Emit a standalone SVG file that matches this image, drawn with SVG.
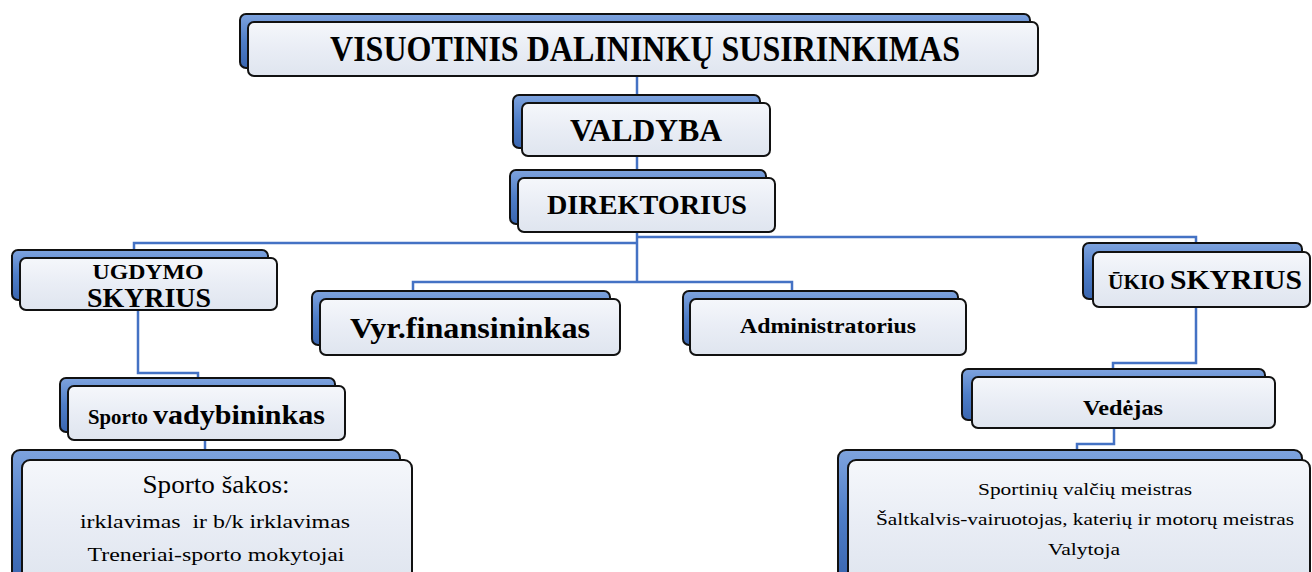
<svg xmlns="http://www.w3.org/2000/svg" width="1312" height="572" viewBox="0 0 1312 572">
<defs>
<linearGradient id="gBack" x1="0" y1="0" x2="0" y2="1">
<stop offset="0" stop-color="#7ea3de"/>
<stop offset="0.5" stop-color="#4f7ec8"/>
<stop offset="1" stop-color="#3a66b0"/>
</linearGradient>
<linearGradient id="gFront" x1="0" y1="0" x2="0" y2="1">
<stop offset="0" stop-color="#f5f7fb"/>
<stop offset="0.5" stop-color="#e9edf5"/>
<stop offset="1" stop-color="#dfe5ef"/>
</linearGradient>
</defs>
<style>
.back{fill:url(#gBack);stroke:#111;stroke-width:2}
.front{fill:url(#gFront);stroke:#111;stroke-width:2}
.conn{fill:none;stroke:#4472c4;stroke-width:2.5}
text{font-family:'Liberation Serif',serif;fill:#000}
.b{font-weight:bold;text-anchor:middle}
.bs{font-weight:bold;text-anchor:start}
.r{text-anchor:middle}
</style>
<rect width="1312" height="572" fill="#ffffff"/>
<g id="connectors">
<path class="conn" d="M637,76 V282"/>
<path class="conn" d="M134,258 V243 H637"/>
<path class="conn" d="M637,237 H1196 V252"/>
<path class="conn" d="M413,298 V282 H792 V299"/>
<path class="conn" d="M138,310 V373 H198 V378"/>
<path class="conn" d="M205,440 V450"/>
<path class="conn" d="M1196,307 V363 H1113 V369"/>
<path class="conn" d="M1114,428 V444 H1077 V450"/>
</g>
<g id="n-top">
<rect class="back" x="240" y="14" width="790" height="54" rx="6"/>
<rect class="front" x="248" y="22" width="790" height="54" rx="6"/>
<text class="b" x="645" y="61" font-size="35" textLength="630" lengthAdjust="spacingAndGlyphs">VISUOTINIS DALININKŲ SUSIRINKIMAS</text>
</g>
<g id="n-valdyba">
<rect class="back" x="513" y="95" width="247" height="53" rx="6"/>
<rect class="front" x="522" y="103" width="248" height="53" rx="6"/>
<text class="b" x="646" y="141" font-size="32" textLength="152" lengthAdjust="spacingAndGlyphs">VALDYBA</text>
</g>
<g id="n-direktorius">
<rect class="back" x="510" y="170" width="256" height="54" rx="6"/>
<rect class="front" x="518" y="178" width="257" height="54" rx="6"/>
<text class="b" x="647" y="214" font-size="28" textLength="200" lengthAdjust="spacingAndGlyphs">DIREKTORIUS</text>
</g>
<g id="n-ugdymo">
<rect class="back" x="12" y="250" width="256" height="50" rx="6"/>
<rect class="front" x="20" y="258" width="257" height="52" rx="6"/>
<text class="b" x="148" y="279" font-size="21" textLength="111" lengthAdjust="spacingAndGlyphs">UGDYMO</text>
<text class="b" x="149" y="307" font-size="27" textLength="124" lengthAdjust="spacingAndGlyphs">SKYRIUS</text>
</g>
<g id="n-vyr">
<rect class="back" x="312" y="291" width="298" height="54" rx="6"/>
<rect class="front" x="320" y="299" width="300" height="56" rx="6"/>
<text class="b" x="470" y="338" font-size="30" textLength="240" lengthAdjust="spacingAndGlyphs">Vyr.finansininkas</text>
</g>
<g id="n-admin">
<rect class="back" x="683" y="291" width="275" height="54" rx="6"/>
<rect class="front" x="690" y="299" width="276" height="56" rx="6"/>
<text class="b" x="828" y="333" font-size="22" textLength="176" lengthAdjust="spacingAndGlyphs">Administratorius</text>
</g>
<g id="n-ukio">
<rect class="back" x="1083" y="243" width="219" height="56" rx="6"/>
<rect class="front" x="1093" y="252" width="217" height="55" rx="6"/>
<text class="bs" x="1108" y="289" font-size="21" textLength="57" lengthAdjust="spacingAndGlyphs">ŪKIO</text>
<text class="bs" x="1170" y="289" font-size="28" textLength="132" lengthAdjust="spacingAndGlyphs">SKYRIUS</text>
</g>
<g id="n-vadyb">
<rect class="back" x="60" y="378" width="275" height="54" rx="6"/>
<rect class="front" x="68" y="386" width="277" height="54" rx="6"/>
<text class="bs" x="88" y="424" font-size="21" textLength="60" lengthAdjust="spacingAndGlyphs">Sporto</text>
<text class="bs" x="153" y="424" font-size="28" textLength="172" lengthAdjust="spacingAndGlyphs">vadybininkas</text>
</g>
<g id="n-vedejas">
<rect class="back" x="962" y="369" width="303" height="51" rx="6"/>
<rect class="front" x="972" y="377" width="303" height="51" rx="6"/>
<text class="b" x="1123" y="415" font-size="21" textLength="80" lengthAdjust="spacingAndGlyphs">Vedėjas</text>
</g>
<g id="n-sakos">
<rect class="back" x="12" y="450" width="388" height="130" rx="8"/>
<rect class="front" x="22" y="460" width="390" height="125" rx="8"/>
<text class="r" x="216" y="493" font-size="25" textLength="147" lengthAdjust="spacingAndGlyphs">Sporto šakos:</text>
<text class="r" x="215" y="528" font-size="19" textLength="270" lengthAdjust="spacingAndGlyphs" xml:space="preserve">irklavimas  ir b/k irklavimas</text>
<text class="r" x="216" y="561" font-size="19" textLength="257" lengthAdjust="spacingAndGlyphs">Treneriai-sporto mokytojai</text>
</g>
<g id="n-right">
<rect class="back" x="838" y="450" width="464" height="130" rx="8"/>
<rect class="front" x="848" y="460" width="462" height="125" rx="8"/>
<text class="r" x="1085" y="495" font-size="17" textLength="214" lengthAdjust="spacingAndGlyphs">Sportinių valčių meistras</text>
<text class="r" x="1085" y="525" font-size="17" textLength="418" lengthAdjust="spacingAndGlyphs">Šaltkalvis-vairuotojas, katerių ir motorų meistras</text>
<text class="r" x="1084" y="555" font-size="17" textLength="72" lengthAdjust="spacingAndGlyphs">Valytoja</text>
</g>
</svg>
